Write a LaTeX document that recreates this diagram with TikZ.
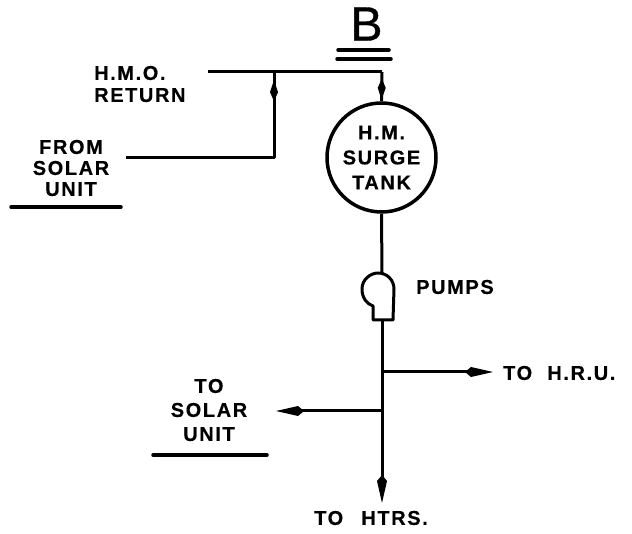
\documentclass[tikz,border=0pt]{standalone}
\usepackage{fontspec}
\usepackage{graphicx}
\setmainfont{Liberation Sans}
\newfontfamily\lblfont[LetterSpace=8,BoldFeatures={FakeBold=0.4}]{Liberation Sans}
\newfontfamily\bfont[FakeBold=0.8]{Liberation Sans}
\usetikzlibrary{arrows.meta,decorations.markings}
\tikzset{
  x=1pt,y=-1pt,
  lbl/.style={font=\lblfont\bfseries\fontsize{20}{#1}\selectfont,align=center,inner sep=0pt,text=black},
  lbl/.default=21,
  pipe/.style={line width=3pt,black},
  tip/.style={-{Kite[length=28pt,width=10pt,inset=6pt]}},
  ul/.style={line width=3.5pt,line cap=round},
  midkite/.style={decoration={markings,mark=at position #1 with {\arrow{Kite[length=21pt,width=8pt,inset=9pt]}}},postaction={decorate}}
}
\begin{document}
\begin{tikzpicture}
\useasboundingbox (0,0) rectangle (632,534);
\node[inner sep=0pt,font=\bfont\fontsize{48}{48}\selectfont] (b) at (366.5,24) {B};
\coordinate (b1l) at (338,50); \coordinate (b1r) at (389,50);
\coordinate (b2l) at (337,59); \coordinate (b2r) at (391,59);
\draw[ul] (b1l) -- (b1r);
\draw[ul] (b2l) -- (b2r);
\node[lbl=22,anchor=west,align=left] (ret) at (94,84) {H.M.O.\\RETURN};
\node[lbl=21] (solar) at (71,168) {FROM\\SOLAR\\UNIT};
\coordinate (ul1l) at (11,207); \coordinate (ul1r) at (121,207);
\draw[ul] (ul1l) -- (ul1r);
\node[draw,circle,line width=3.5pt,minimum size=109pt,inner sep=0pt,lbl=25] (tank) at (381.5,157.5) {H.M.\\SURGE\\TANK};
\coordinate (retstart) at (208,72);
\coordinate (corner) at (382,72);
\coordinate (sol) at (126,158);
\coordinate (solc) at (274,158);
\coordinate (join) at (274,72);
\draw[pipe,midkite=0.95] (corner) -- (tank.north);
\draw[pipe] (retstart) -- (corner);
\draw[pipe,line join=round,midkite=0.965] (sol) -- (solc) -- (join);
% pump
\coordinate (ptop) at (382,273);
\coordinate (pout) at (382,320);
\draw[line width=3pt,line join=round] (373,320) -- (373,306) .. controls (367,304) and (362,298) .. (362,289) .. controls (362,279) and (371,273) .. (378,273) .. controls (387,273) and (394,280) .. (394,289) -- (393,320) -- cycle;
\draw[pipe] (tank.south) -- (ptop);
\coordinate (j1) at (382,372);
\coordinate (j2) at (382,411);
\coordinate (end) at (382,503);
\coordinate (hru) at (493,372);
\coordinate (tosol) at (276,411);
\draw[pipe,tip] (pout) -- (end);
\draw[pipe,tip] (j1) -- (hru);
\draw[pipe,tip] (j2) -- (tosol);
\node[lbl,anchor=west] (pumps) at (416,287) {PUMPS};
\node[lbl,anchor=west] (hrut) at (503,373) {TO\hspace{8pt} H.R.U.};
\node[lbl=24] (tos) at (209,410) {TO\\SOLAR\\UNIT};
\coordinate (ul2l) at (153,455); \coordinate (ul2r) at (267,455);
\draw[ul] (ul2l) -- (ul2r);
\node[lbl] (htrs) at (371,518) {TO\hspace{11pt} HTRS.};
\end{tikzpicture}
\end{document}
